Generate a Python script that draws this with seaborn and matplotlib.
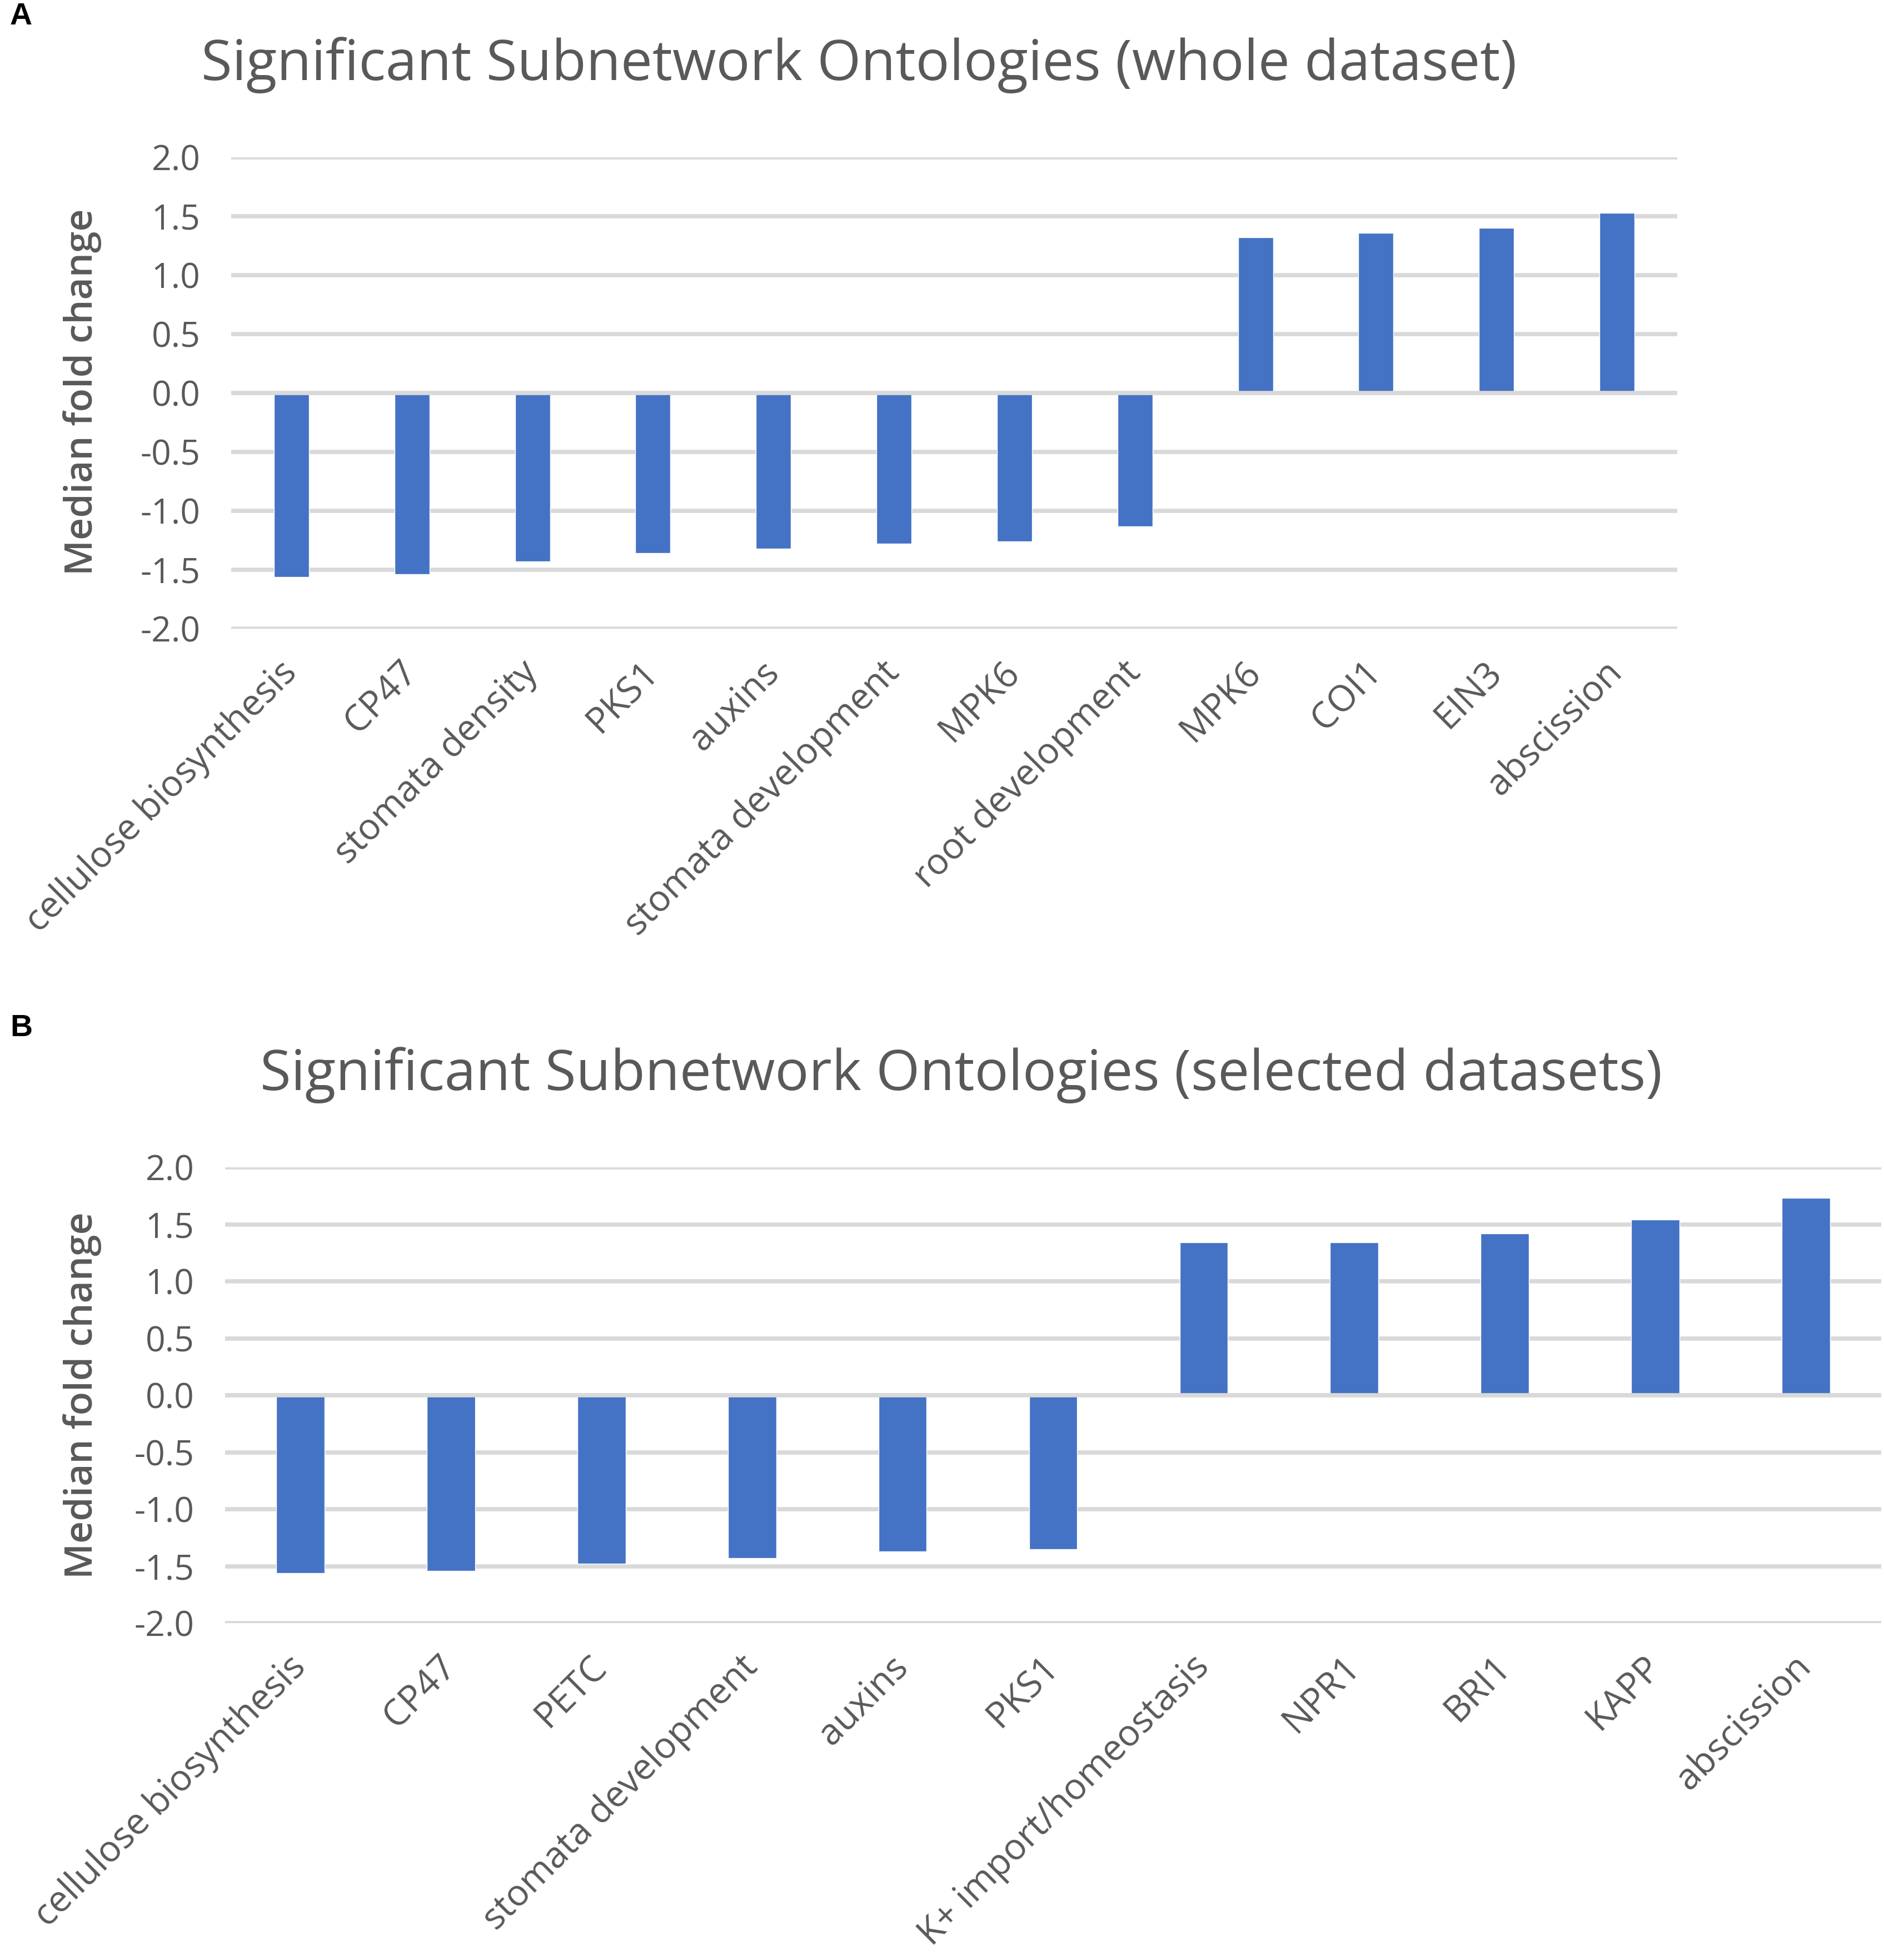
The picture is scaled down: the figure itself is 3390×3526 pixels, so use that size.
import numpy as np
import pandas as pd
import seaborn as sns
import matplotlib.pyplot as plt

sns.set_theme(style="white")
plt.rcParams["font.family"] = ["Open Sans", "DejaVu Sans"]

# panel A - whole dataset
labels_a = ["cellulose biosynthesis", "CP47", "stomata density", "PKS1", "auxins",
            "stomata development", "MPK6", "root development", "MPK6", "COI1", "EIN3",
            "abscission"]
values_a = [-1.56, -1.54, -1.43, -1.36, -1.32, -1.28, -1.26, -1.13, 1.32, 1.36, 1.40, 1.53]

# panel B - selected datasets
labels_b = ["cellulose biosynthesis", "CP47", "PETC", "stomata development", "auxins", "PKS1",
            "K+ import/homeostasis", "NPR1", "BRI1", "KAPP", "abscission"]
values_b = [-1.56, -1.54, -1.48, -1.43, -1.37, -1.35, 1.34, 1.34, 1.42, 1.54, 1.73]

yticks = [-2.0, -1.5, -1.0, -0.5, 0.0, 0.5, 1.0, 1.5, 2.0]

BAR = "#4472C4"
GRID = "#D9D9D9"
TXT = "#595959"

W, H = 3391, 3526
fig = plt.figure(figsize=(W / 100, H / 100), dpi=100)


def panel(rect, labels, values, width, title, title_xy, ylab_y, letter_y, letter):
    ax = fig.add_axes(rect)
    df = pd.DataFrame({"pos": range(len(values)), "val": values})
    sns.barplot(data=df, x="pos", y="val", color=BAR, width=width, saturation=1, ax=ax)
    ax.set_xlim(-0.5, len(values) - 0.5)
    ax.set_ylim(-2, 2)
    ax.set_yticks(yticks)
    ax.set_yticklabels([f"{t:.1f}" for t in yticks], fontsize=45, color=TXT)
    ax.set_xticks(range(len(labels)))
    ax.set_xticklabels(labels, rotation=45, ha="right", va="center",
                       rotation_mode="anchor", fontsize=47, color=TXT)
    ax.tick_params(axis="x", length=0, pad=50)
    ax.tick_params(axis="y", length=0, pad=40)
    ax.yaxis.grid(True, color=GRID, linewidth=5.5)
    ax.set_axisbelow(True)
    # horizontal axis line drawn over the bars, as in the original
    ax.axhline(0, color=GRID, linewidth=5.5, zorder=5)
    for s in ax.spines.values():
        s.set_visible(False)
    ax.set_xlabel("")
    ax.set_ylabel("")
    fig.text(title_xy[0] / W, 1 - title_xy[1] / H, title, fontsize=73, color=TXT,
             ha="center", va="center")
    fig.text(148 / W, 1 - ylab_y / H, "Median fold change", fontsize=50, color=TXT,
             fontweight="semibold", rotation=90, ha="center", va="center")
    fig.text(18 / W, 1 - letter_y / H, letter, fontsize=40, fontweight="bold",
             family="Liberation Sans", color="black", ha="left", va="center")
    return ax


panel([416 / W, 1 - 1131 / H, (3018 - 416) / W, (1131 - 283) / H], labels_a, values_a, 0.29,
      "Significant Subnetwork Ontologies (whole dataset)", (1546, 117), 705, 30, "A")
panel([405 / W, 1 - 2920 / H, (3385 - 405) / W, (2920 - 2100) / H], labels_b, values_b, 0.32,
      "Significant Subnetwork Ontologies (selected datasets)", (1730, 1934), 2510, 1850, "B")

fig.savefig("out.png", dpi=100, facecolor="white")
